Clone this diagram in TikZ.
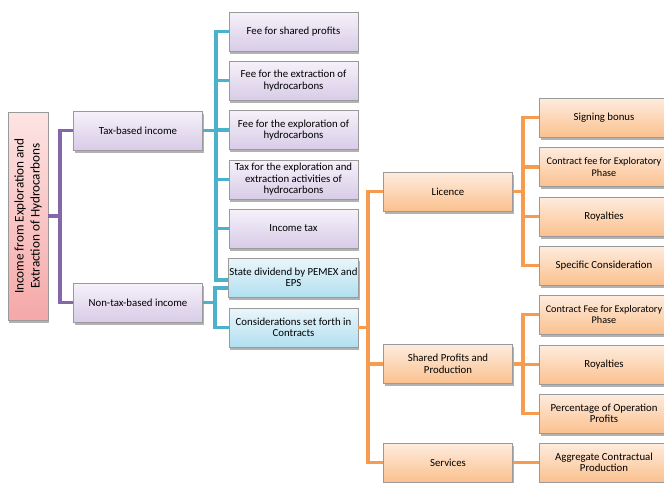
\documentclass[tikz,border=0pt]{standalone}
\usepackage{fontspec}
\setmainfont{Carlito}
\usetikzlibrary{shadows,calc}
\definecolor{purpline}{HTML}{8566AA}
\definecolor{blueline}{HTML}{4BB2CC}
\definecolor{orangeline}{HTML}{F79C4E}
\definecolor{boxborder}{HTML}{9A9A9A}
\tikzset{
  box/.style={draw=boxborder, line width=0.7pt, minimum width=129pt, minimum height=39pt,
    inner sep=1pt, align=center, font=\fontsize{10.8}{11.5}\selectfont,
    drop shadow={shadow xshift=1pt, shadow yshift=-2.5pt, fill=black, opacity=0.3}},
  purplebox/.style={box, top color={rgb,255:red,246;green,241;blue,250}, bottom color={rgb,255:red,216;green,204;blue,231}},
  bluebox/.style={box, top color={rgb,255:red,234;green,246;blue,251}, bottom color={rgb,255:red,178;green,223;blue,240}},
  orangebox/.style={box, top color={rgb,255:red,254;green,236;blue,222}, bottom color={rgb,255:red,251;green,193;blue,143}},
  rootbox/.style={draw=boxborder, line width=0.7pt, minimum width=40pt, minimum height=208pt, inner sep=0pt,
    top color={rgb,255:red,253;green,228;blue,228}, bottom color={rgb,255:red,245;green,168;blue,168},
    drop shadow={shadow xshift=1pt, shadow yshift=-2.5pt, fill=black, opacity=0.3}},
  purp/.style={draw=purpline, line width=3.5pt},
  blu/.style={draw=blueline, line width=3.5pt},
  ora/.style={draw=orangeline, line width=3.5pt},
  narrowtext/.style={font=\fontsize{10.2}{11.5}\selectfont},
}
\begin{document}
\begin{tikzpicture}[x=1pt,y=-1pt]
\useasboundingbox (0,0) rectangle (664,482);
\clip (0,0) rectangle (664,482);
% root
\node[rootbox] (root) at (28,216) {};
\node[rotate=90, align=center, font=\fontsize{13.2}{16}\selectfont, inner sep=0pt] (roottext) at (28,216) {Income from Exploration and\\Extraction of Hydrocarbons};
% level 1
\node[purplebox] (tax) at (138,130.5) {Tax-based income};
\node[purplebox] (nontax) at (138,302.5) {Non-tax-based income};
% level 2
\node[purplebox] (b1) at (293.5,31.5) {Fee for shared profits};
\node[purplebox] (b2) at (293.5,80.5) {Fee for the extraction of\\hydrocarbons};
\node[purplebox] (b3) at (293.5,130) {Fee for the exploration of\\hydrocarbons};
\node[purplebox] (b4) at (293.5,179.5) {Tax for the exploration and\\extraction activities of\\hydrocarbons};
\node[purplebox] (b5) at (293.5,228.5) {Income tax};
\node[bluebox] (b6) at (293.5,277.5) {State dividend by PEMEX and\\EPS};
\node[bluebox] (b7) at (293.5,327.5) {Considerations set forth in\\Contracts};
% level 3
\node[orangebox] (lic) at (448,191.5) {Licence};
\node[orangebox] (spp) at (448,364) {Shared Profits and\\Production};
\node[orangebox] (srv) at (448,462.5) {Services};
% level 4
\node[orangebox] (r1) at (604,117.5) {Signing bonus};
\node[orangebox, narrowtext] (r2) at (604,167) {Contract fee for Exploratory\\Phase};
\node[orangebox] (r3) at (604,216.5) {Royalties};
\node[orangebox] (r4) at (604,265.5) {Specific Consideration};
\node[orangebox, narrowtext] (r5) at (604,314.5) {Contract Fee for Exploratory\\Phase};
\node[orangebox] (r6) at (604,364.5) {Royalties};
\node[orangebox] (r7) at (604,413.5) {Percentage of Operation\\Profits};
\node[orangebox] (r8) at (604,462.5) {Aggregate Contractual\\Production};
% bus coordinates
\coordinate (pbus) at (60,0);
\coordinate (tbus) at (216,0);
\coordinate (nbus) at (215,0);
\coordinate (obus) at (368,0);
\coordinate (lbus) at (523,0);
% purple connectors
\draw[purp] (root.east) -- (pbus |- root.east);
\draw[purp] (tax.west) -| (pbus |- root.east) |- (nontax.west);
% blue tax connectors
\coordinate (b6t) at ($(b6.west)+(0,2.5)$);
\draw[blu] (b1.west) -| (tbus |- b6t) -- (b6t);
\draw[blu] (tax.east) -- (tbus |- tax.east);
\foreach \n in {b2,b3,b4,b5} \draw[blu] (tbus |- \n.west) -- (\n.west);
% blue non-tax connectors
\coordinate (b6n) at ($(b6.west)+(0,10.5)$);
\draw[blu] (b6n) -| (nbus |- b7.west) -- (b7.west);
\draw[blu] (nontax.east) -- (nbus |- nontax.east);
% orange connectors
\draw[ora] (b7.east) -- (obus |- b7.east);
\draw[ora] (lic.west) -| (obus |- srv.west) -- (srv.west);
\draw[ora] (obus |- spp.west) -- (spp.west);
\draw[ora] (r1.west) -| (lbus |- r4.west) -- (r4.west);
\draw[ora] (lic.east) -- (lbus |- lic.east);
\foreach \n in {r2,r3} \draw[ora] (lbus |- \n.west) -- (\n.west);
\draw[ora] (r5.west) -| (lbus |- r7.west) -- (r7.west);
\draw[ora] (spp.east) -- (lbus |- spp.east);
\draw[ora] (lbus |- r6.west) -- (r6.west);
\draw[ora] (srv.east) -- (r8.west);
\end{tikzpicture}
\end{document}
